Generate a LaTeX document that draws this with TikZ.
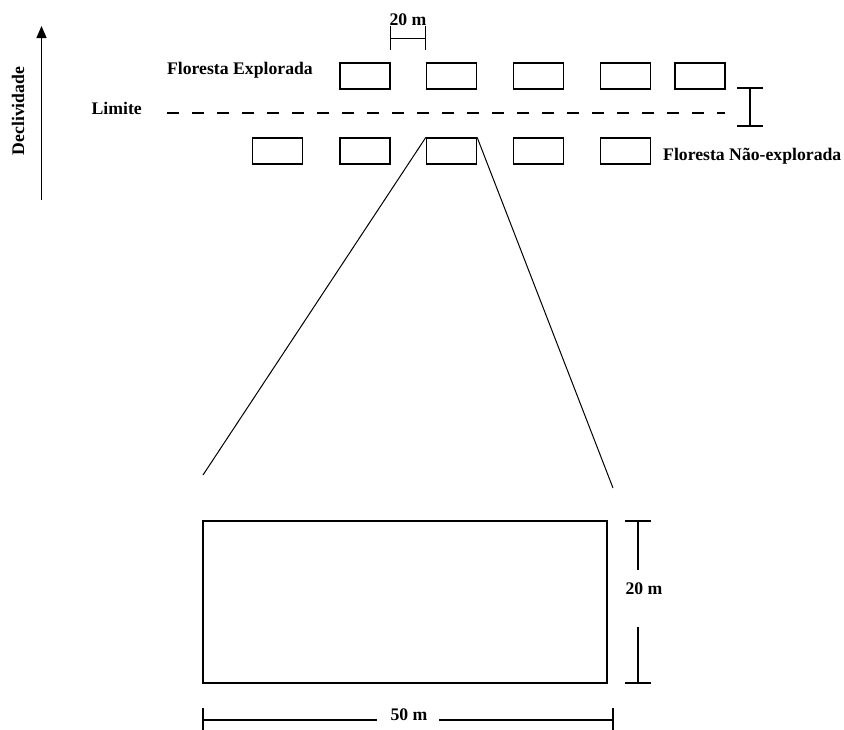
\documentclass[tikz,border=0pt]{standalone}
\usepackage{fontspec}
\setmainfont{Liberation Serif}
\usetikzlibrary{arrows.meta,positioning}

\begin{document}
\begin{tikzpicture}[
    x=1pt, y=-1pt,
    font=\fontsize{17.7}{20}\selectfont\bfseries,
    plot/.style={
        draw,
        line width=1.3pt,
        minimum width=50pt,
        minimum height=26pt,
        inner sep=0pt
    },
    bigplot/.style={
        draw,
        line width=1.3pt,
        minimum width=404pt,
        minimum height=162pt,
        inner sep=0pt
    },
    dimline/.style={
        line width=1.2pt
    },
    zoomline/.style={
        line width=1pt
    },
    slope/.style={
        -{Triangle[length=12pt,width=10pt]},
        line width=1.2pt
    },
    labeltext/.style={
        inner sep=1pt
    }
]

\useasboundingbox (0,0) rectangle (844,729);

% Slope arrow
\coordinate (slopeA) at (41.5,200);
\coordinate (slopeB) at (41.5,26);
\draw[slope] (slopeA) -- (slopeB);
\node[labeltext, rotate=90] (decl) at (18,111) {Declividade};

% Top row: explored forest
\foreach \x [count=\i] in {365,451.5,538.5,625.5,700} {
    \node[plot] (top\i) at (\x,76) {};
}
\node[labeltext, anchor=east] (explorada) at (314,70) {Floresta Explorada};

% Boundary
\coordinate (limA) at (167,113);
\coordinate (limB) at (725,113);
\draw[line width=1.1pt, dash pattern=on 12pt off 13pt] (limA) -- (limB);
\node[labeltext, anchor=east] (limite) at (143,108) {Limite};

% Bottom row: unexplored forest
\foreach \x [count=\i] in {277.5,365,451.5,538.5,625.5} {
    \node[plot] (bot\i) at (\x,151) {};
}
\node[labeltext, anchor=west] (naoexpl) at (662,156) {Floresta Não-explorada};

% 20 m spacing between plots
\coordinate (gapL) at (top1.north east);
\coordinate (gapR) at (top2.north west);
\draw[dimline] ([yshift=12pt]gapL) -- ([yshift=36pt]gapL);
\draw[dimline] ([yshift=12pt]gapR) -- ([yshift=36pt]gapR);
\draw[dimline] ([yshift=24pt]gapL) -- ([yshift=24pt]gapR);
\node[labeltext] (gaplab) at (408,20) {20 m};

% Distance to boundary
\coordinate (limT) at (750,88);
\coordinate (limU) at (750,126);
\draw[dimline] (limT) -- (limU);
\draw[dimline] ([xshift=-13pt]limT) -- ([xshift=13pt]limT);
\draw[dimline] ([xshift=-13pt]limU) -- ([xshift=13pt]limU);

% Zoom of one plot
\coordinate (zoomL) at (203,475);
\coordinate (zoomR) at (613,488);
\draw[zoomline] (bot3.north west) -- (zoomL);
\draw[zoomline] (bot3.north east) -- (zoomR);

\node[bigplot] (parcela) at (405,602) {};

% 20 m width
\node[labeltext] (largura) at (644,589) {20 m};
\coordinate (wT) at (638,521);
\coordinate (wB) at (638,683);
\draw[dimline] (wT) -- ([yshift=-49pt]wT);
\draw[dimline] ([yshift=56pt]wB) -- (wB);
\draw[dimline] ([xshift=-13pt]wT) -- ([xshift=13pt]wT);
\draw[dimline] ([xshift=-13pt]wB) -- ([xshift=13pt]wB);

% 50 m length
\node[labeltext] (compr) at (409,715) {50 m};
\coordinate (lL) at (203,720);
\coordinate (lR) at (613,720);
\draw[dimline] (lL) -- (377,720);
\draw[dimline] (439,720) -- (lR);
\draw[dimline] ([yshift=12pt]lL) -- ([yshift=-10pt]lL);
\draw[dimline] ([yshift=12pt]lR) -- ([yshift=-10pt]lR);

\end{tikzpicture}
\end{document}
